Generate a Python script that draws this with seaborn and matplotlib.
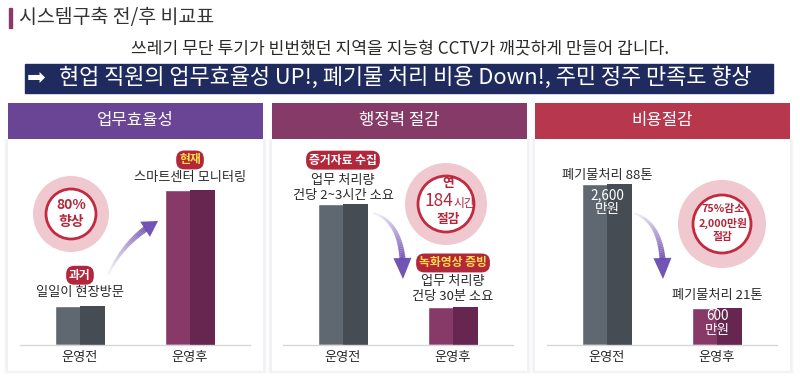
import numpy as np
import matplotlib.pyplot as plt
import seaborn as sns
from matplotlib.patches import Rectangle, Circle, Polygon
from matplotlib.collections import LineCollection
from matplotlib.colors import to_rgb

sns.set_theme(style='white')
plt.rcParams['font.family'] = ['Noto Sans CJK KR', 'DejaVu Sans']

# 데이터
categories = ['운영전', '운영후']
efficiency = [25, 100]     # 업무효율성 (상대지수)
admin_time = [100, 27]     # 행정력 - 건당 처리시간 (상대지수)
cost = [2600, 600]         # 비용 (만원)

panel_titles = ['업무효율성', '행정력 절감', '비용절감']
header_colors = ['#6a4596', '#853a68', '#b7384d']
bar_light = ['#5f6870', '#873a67']
bar_dark = ['#454c53', '#66264f']
txt = '#2a2a2a'
red = '#b3273b'

fig = plt.figure(figsize=(8, 3.77), dpi=100)

# 배경 레이어 (픽셀 좌표)
bg = fig.add_axes([0, 0, 1, 1])
bg.set_xlim(0, 800)
bg.set_ylim(377, 0)
bg.axis('off')

# 제목
bg.add_patch(Rectangle((9, 8), 3, 20, color='#8a3a66'))
bg.text(19, 18, '시스템구축 전/후 비교표', fontsize=14, color='#333333', va='center', ha='left')
bg.text(400, 48, '쓰레기 무단 투기가 빈번했던 지역을 지능형 CCTV가 깨끗하게 만들어 갑니다.',
        fontsize=12.3, color=txt, ha='center', va='center')
bg.add_patch(Rectangle((25, 64), 748, 29, color='#1f2a5e'))
bg.text(36, 78.5, '➡', fontsize=16, color='white', ha='center', va='center', family='DejaVu Sans')
bg.text(405, 78, '현업 직원의 업무효율성 UP!, 폐기물 처리 비용 Down!, 주민 정주 만족도 향상',
        fontsize=15.8, color='white', ha='center', va='center')

# 패널 배경 + 헤더
panels = [(8, 263), (272, 527), (535, 790)]
for (x0, x1), title, hc in zip(panels, panel_titles, header_colors):
    for k, a in enumerate([0.05, 0.04, 0.03]):
        bg.add_patch(Rectangle((x0 - 2 - k, 139), x1 - x0 + 4 + 2 * k, 233 + k,
                               color='#8a94a6', alpha=a, lw=0))
    bg.add_patch(Rectangle((x0, 139), x1 - x0, 232, color='white', lw=0))
    bg.add_patch(Rectangle((x0, 103), x1 - x0, 36, color=hc, lw=0))
    bg.text((x0 + x1) / 2, 121, title, fontsize=12, color='white', ha='center', va='center')

# 원형 강조
def badge_circle(cx, cy, r_out, r_in):
    bg.add_patch(Circle((cx, cy), r_out, color='#efc9cf', lw=0))
    bg.add_patch(Circle((cx, cy), r_in, fc='white', ec='#c22a40', lw=2))

badge_circle(71, 214, 38, 25)
bg.text(71, 205, '80%', fontsize=10, color=red, ha='center', va='center', weight='bold')
bg.text(71, 222, '향상', fontsize=10, color=red, ha='center', va='center', weight='bold')

badge_circle(446, 204, 41, 28)
bg.text(448, 184, '연', fontsize=9.2, color=red, ha='center', va='center', weight='bold')
bg.text(453, 201, '184', fontsize=12.5, color=red, ha='right', va='center')
bg.text(453, 203, '시간', fontsize=8.5, color=red, ha='left', va='center')
bg.text(448, 219, '절감', fontsize=9.2, color=red, ha='center', va='center', weight='bold')

badge_circle(722, 224, 44, 29)
bg.text(723, 209, '75%감소', fontsize=7.8, color=red, ha='center', va='center', weight='bold')
bg.text(723, 223, '2,000만원', fontsize=7.8, color=red, ha='center', va='center', weight='bold')
bg.text(723, 237, '절감', fontsize=7.8, color=red, ha='center', va='center', weight='bold')

# 곡선 화살표 (꼬리는 흐리게)
arrow_rgb = to_rgb('#6a4bb0')

def curved_arrow(p0, p1, p2, n=40, t_head=0.8, head_w=9):
    p0, p1, p2 = map(np.array, (p0, p1, p2))
    t = np.linspace(0, t_head + 0.02, n)[:, None]
    pts = (1 - t) ** 2 * p0 + 2 * (1 - t) * t * p1 + t ** 2 * p2
    segs = np.stack([pts[:-1], pts[1:]], axis=1)
    f = np.linspace(0, 1, n - 1)
    colors = [(*arrow_rgb, 0.08 + 0.85 * v ** 1.3) for v in f]
    bg.add_collection(LineCollection(segs, colors=colors, linewidths=1.2 + 3.2 * f,
                                     capstyle='butt'))
    b = pts[-2]
    d = (p2 - b) / np.linalg.norm(p2 - b)
    nrm = np.array([-d[1], d[0]])
    bg.add_patch(Polygon([b + nrm * head_w, b - nrm * head_w, p2], closed=True,
                         color='#6a4bb0', alpha=0.95, lw=0))

curved_arrow((108, 275), (124, 240), (158, 221))
curved_arrow((373, 213), (405, 222), (403, 279))
curved_arrow((633, 213), (665, 222), (663, 279))

# 막대 그래프
bar_axes_left = [20, 283, 547]
series = [efficiency, admin_time, cost]
ymax = [129, 142, 3230]
axes = []
for left, vals, top in zip(bar_axes_left, series, ymax):
    ax = fig.add_axes([left / 800, 32 / 377, 230 / 800, 200 / 377])
    ax.patch.set_alpha(0)
    sns.barplot(x=categories, y=vals, hue=categories, palette=bar_light, width=0.455,
                legend=False, ax=ax, saturation=1)
    for i, p in enumerate(ax.patches):
        w = p.get_width()
        ax.add_patch(Rectangle((p.get_x() + w / 2, 0), w / 2, p.get_height(),
                               color=bar_dark[i], lw=0))
    ax.set_xlim(-0.545, 1.545)
    ax.set_ylim(0, top)
    ax.set_yticks([])
    ax.set_ylabel('')
    for s in ['top', 'left', 'right']:
        ax.spines[s].set_visible(False)
    ax.spines['bottom'].set_color('#d5d7db')
    ax.spines['bottom'].set_linewidth(1)
    ax.tick_params(axis='x', length=0, pad=4, labelsize=9.5, labelcolor=txt)
    axes.append(ax)

PX = 0.72  # 픽셀 -> 포인트

def label(ax, i, vals, s, dy, size=9.5, color=txt, badge=None, weight='normal'):
    kw = {}
    if badge:
        kw['bbox'] = dict(boxstyle='round,pad=0.25,rounding_size=0.7', fc=red, ec='none')
    ax.annotate(s, xy=(i, vals[i]), xytext=(0, dy * PX), textcoords='offset points',
                ha='center', va='center', fontsize=size, color=color, weight=weight,
                annotation_clip=False, **kw)

ax1, ax2, ax3 = axes
label(ax1, 0, efficiency, '일일이 현장방문', 14)
label(ax1, 0, efficiency, '과거', 31, size=8.5, color='white', badge=True, weight='bold')
label(ax1, 1, efficiency, '스마트센터 모니터링', 12)
label(ax1, 1, efficiency, '현재', 30, size=8.5, color='#ffe04a', badge=True, weight='bold')

label(ax2, 0, admin_time, '건당 2~3시간 소요', 9)
label(ax2, 0, admin_time, '업무 처리량', 24)
label(ax2, 0, admin_time, '증거자료 수집', 44, size=8.5, color='white', badge=True, weight='bold')
label(ax2, 1, admin_time, '건당 30분 소요', 10)
label(ax2, 1, admin_time, '업무 처리량', 25)
label(ax2, 1, admin_time, '녹화영상 증빙', 44, size=8.5, color='#ffe04a', badge=True, weight='bold')

label(ax3, 0, cost, '폐기물처리 88톤', 9)
label(ax3, 0, cost, '2,600', -11, size=9.8, color='white')
label(ax3, 0, cost, '만원', -25, size=9.8, color='white')
label(ax3, 1, cost, '폐기물처리 21톤', 12)
label(ax3, 1, cost, '600', -8, size=9.8, color='white')
label(ax3, 1, cost, '만원', -22, size=9.8, color='white')

fig.savefig('out.png', dpi=100)
